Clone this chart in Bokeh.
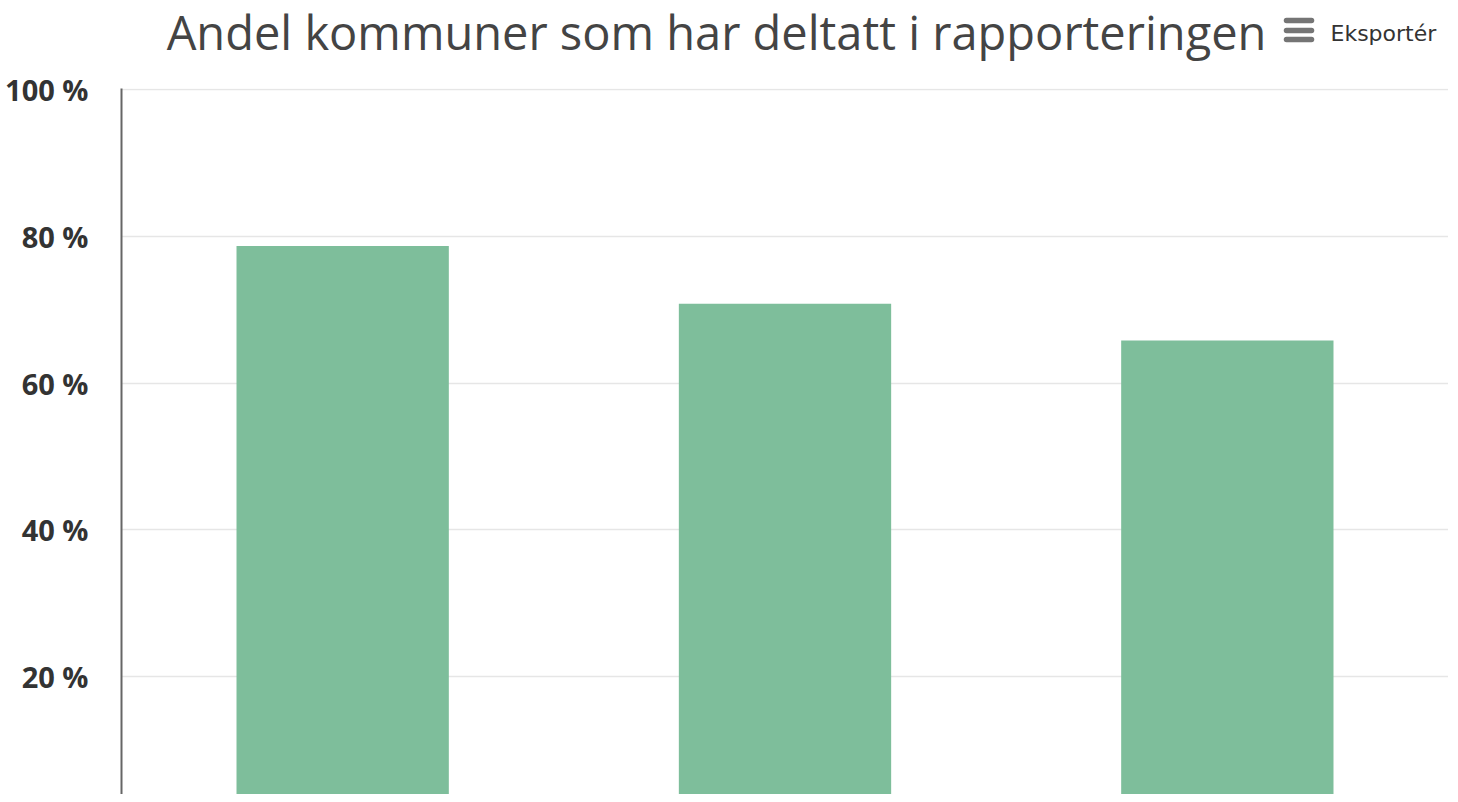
from bokeh.plotting import figure
from bokeh.layouts import column
from bokeh.models import Range1d, FixedTicker
from bokeh.core.properties import value
from bokeh.embed import file_html
from bokeh.resources import INLINE

# data
categories = ["2021", "2022", "2023"]
shares = [78.7, 70.8, 65.8]
tick_values = [20, 40, 60, 80, 100]
tick_labels = ["20 %", "40 %", "60 %", "80 %", "100 %"]
title_text = "Andel kommuner som har deltatt i rapporteringen"
export_text = "Eksportér"

W = 1448
HEADER_H = 68
MAIN_H = 726
LEFT, TOP_PAD = 121, 20
PX_PER_UNIT = 7.338           # pixels per percentage point
Y_TOP = 100.15
Y0 = Y_TOP - (MAIN_H - TOP_PAD) / PX_PER_UNIT

# ---- header (title + export button), coordinates are page pixels ----
h = figure(width=W, height=HEADER_H, x_range=Range1d(LEFT, W), y_range=Range1d(HEADER_H, 0),
           output_backend="svg", toolbar_location=None, tools="",
           min_border_left=LEFT, min_border_right=0, min_border_top=0, min_border_bottom=0)
h.axis.visible = False
h.grid.visible = False
h.outline_line_color = None

h.text(x=[716], y=[31], text=[title_text], text_align="center",
       text_baseline="alphabetic", text_font=value("Open Sans"),
       text_font_size="47px", text_color="#444444")
h.text(x=[1330], y=[33], text=[export_text], text_align="left",
       text_baseline="alphabetic", text_font=value("DejaVu Sans"),
       text_font_size="22px", text_color="#333333")
h.segment(x0=[1286, 1286, 1286], y0=[20, 30, 39], x1=[1311, 1311, 1311],
          y1=[20, 30, 39], line_width=5.5, line_cap="round",
          line_color="#666666", line_alpha=0.9)

# ---- main chart ----
p = figure(x_range=categories, y_range=Range1d(Y0, Y_TOP), width=W, height=MAIN_H,
           output_backend="svg", toolbar_location=None, tools="",
           min_border_left=LEFT, min_border_right=0, min_border_top=TOP_PAD,
           min_border_bottom=0)

p.vbar(x=categories, top=shares, width=0.48, bottom=0,
       fill_color="#7EBE9B", line_color=None)

p.xaxis.visible = False
p.xgrid.grid_line_color = None
p.ygrid.grid_line_color = "#e6e6e6"
p.ygrid.grid_line_width = 1.5
p.outline_line_color = None

ya = p.yaxis[0]
ya.ticker = FixedTicker(ticks=tick_values)
ya.major_label_overrides = {v: l for v, l in zip(tick_values, tick_labels)}
ya.major_tick_line_color = None
ya.minor_tick_line_color = None
ya.axis_line_color = "#666666"
ya.axis_line_width = 2
ya.major_label_standoff = 27
ya.major_label_text_font = "Open Sans"
ya.major_label_text_font_style = "bold"
ya.major_label_text_font_size = "29px"
ya.major_label_text_color = "#333333"

layout = column(h, p, spacing=0)
open("out.html", "w").write(file_html(layout, INLINE))
